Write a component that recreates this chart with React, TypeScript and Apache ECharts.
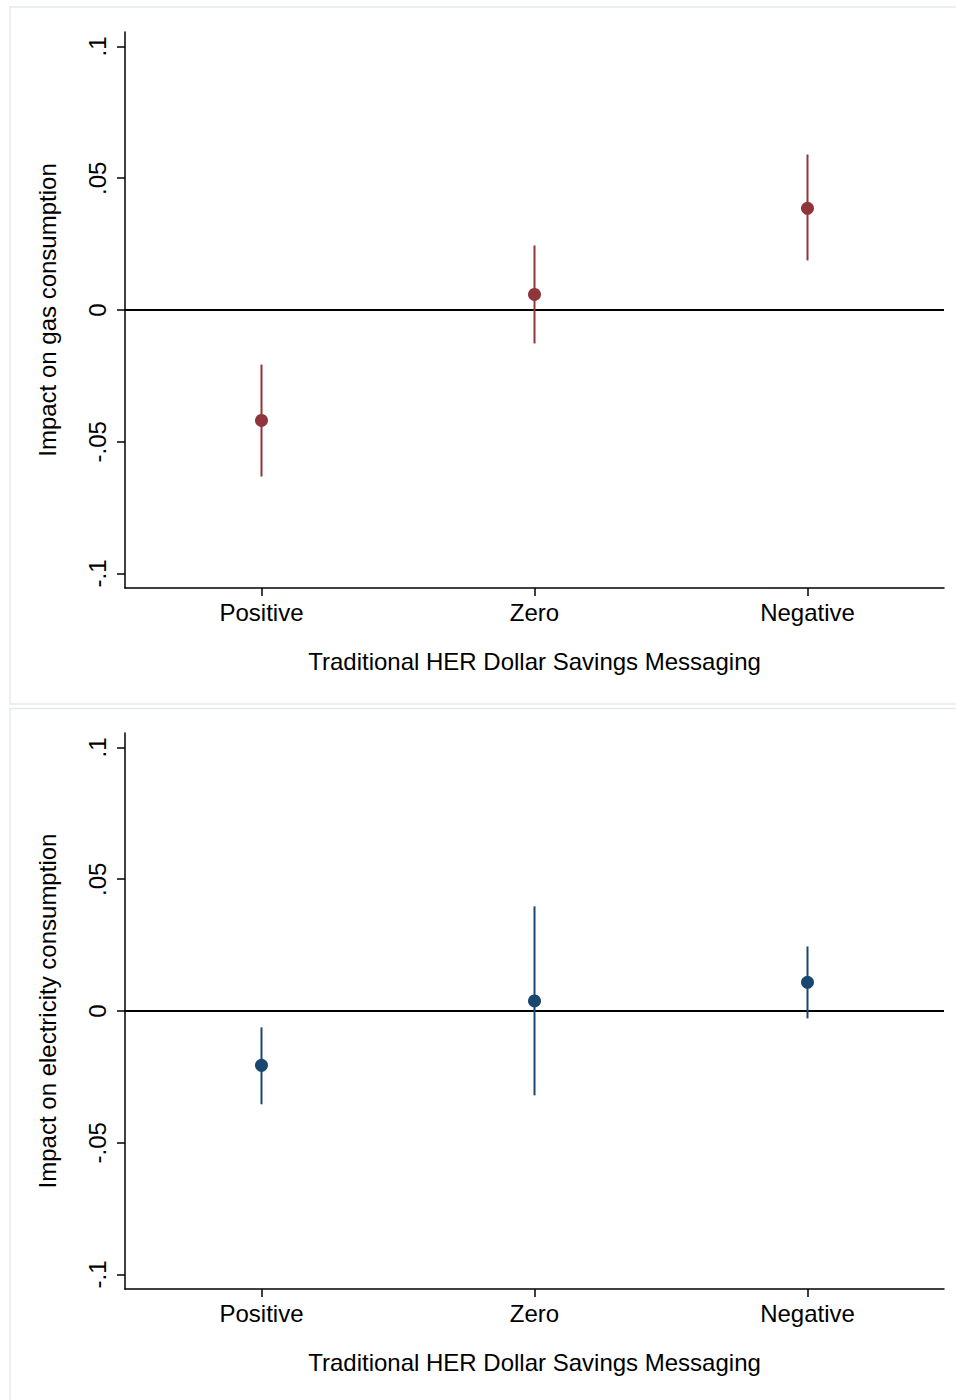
import React, { useEffect, useRef } from "react";
import * as echarts from "echarts";

const categories = ["Positive", "Zero", "Negative"];

const gasEstimate = [-0.0419, 0.0059, 0.0386];
const gasLow = [-0.0632, -0.0127, 0.0188];
const gasHigh = [-0.0207, 0.0245, 0.059];

const elecEstimate = [-0.0206, 0.0038, 0.0109];
const elecLow = [-0.0354, -0.032, -0.0028];
const elecHigh = [-0.0062, 0.0397, 0.0245];

const yTicks = [-0.1, -0.05, 0, 0.05, 0.1];

const xTitle = "Traditional HER Dollar Savings Messaging";
const gasTitle = "Impact on gas consumption";
const elecTitle = "Impact on electricity consumption";

const RED = "#90353b";
const BLUE = "#1a476f";
const FONT = "'Liberation Sans', Arial, Helvetica, sans-serif";

function fmt(v: number): string {
  if (v === 0) return "0";
  const s = String(Math.abs(v)).replace(/^0/, "");
  return (v < 0 ? "-" : "") + s;
}

export default function App() {
  const ref = useRef<HTMLDivElement>(null);

  useEffect(() => {
    if (!ref.current) return;
    const chart = echarts.init(ref.current, undefined, { renderer: "svg" });

    const panels = [
      { est: gasEstimate, low: gasLow, high: gasHigh, color: RED, title: gasTitle },
      { est: elecEstimate, low: elecLow, high: elecHigh, color: BLUE, title: elecTitle },
    ];

    const series: any[] = [];
    panels.forEach((p, i) => {
      series.push({
        type: "custom",
        xAxisIndex: i,
        yAxisIndex: i,
        silent: true,
        data: categories.map((c, j) => [j, p.low[j], p.high[j]]),
        encode: { x: 0, y: [1, 2] },
        renderItem: (params: any, api: any) => {
          const a = api.coord([api.value(0), api.value(1)]);
          const b = api.coord([api.value(0), api.value(2)]);
          return {
            type: "line",
            shape: { x1: a[0], y1: a[1], x2: b[0], y2: b[1] },
            style: { stroke: p.color, lineWidth: 2 },
          };
        },
        z: 3,
      });
      series.push({
        type: "scatter",
        xAxisIndex: i,
        yAxisIndex: i,
        data: categories.map((c, j) => [j, p.est[j]]),
        symbol: "circle",
        symbolSize: 13,
        itemStyle: { color: p.color, opacity: 1 },
        z: 4,
        markLine: {
          silent: true,
          symbol: "none",
          label: { show: false },
          lineStyle: { color: "#000", width: 2, type: "solid" },
          data: [{ yAxis: 0 }],
          z: 2,
        },
      });
    });

    const option: any = {
      animation: false,
      backgroundColor: "#fff",
      graphic: [
        {
          type: "rect",
          shape: { x: 10, y: 7, width: 960, height: 697 },
          style: { fill: "none", stroke: "#e3ecec", lineWidth: 1.5 },
          silent: true,
        },
        {
          type: "rect",
          shape: { x: 10, y: 708.5, width: 960, height: 720 },
          style: { fill: "none", stroke: "#e3ecec", lineWidth: 1.5 },
          silent: true,
        },
      ],
      grid: [
        { left: 125, top: 32, width: 819, height: 556 },
        { left: 125, top: 733, width: 819, height: 556 },
      ],
      xAxis: [0, 1].map((i) => ({
        type: "category",
        gridIndex: i,
        data: categories,
        boundaryGap: true,
        axisLine: { show: true, onZero: false, lineStyle: { color: "#000", width: 1.5 } },
        axisTick: { show: true, alignWithLabel: true, length: 8, lineStyle: { color: "#000", width: 1.5 } },
        axisLabel: { fontSize: 24, color: "#000", margin: 12, fontFamily: FONT },
        splitLine: { show: false },
        name: xTitle,
        nameLocation: "middle",
        nameGap: 61,
        nameTextStyle: { fontSize: 24, color: "#000", fontFamily: FONT },
      })),
      yAxis: panels.map((p, i) => ({
        type: "value",
        gridIndex: i,
        min: -0.1055,
        max: 0.1055,
        axisLine: { show: true, onZero: false, lineStyle: { color: "#000", width: 1.5 } },
        axisTick: { show: true, length: 8, customValues: yTicks, lineStyle: { color: "#000", width: 1.5 } },
        axisLabel: {
          customValues: yTicks,
          rotate: 90,
          fontSize: 24,
          color: "#000",
          margin: 16,
          fontFamily: FONT,
          formatter: (v: number) => fmt(v),
        },
        splitLine: { show: false },
        name: p.title,
        nameLocation: "middle",
        nameRotate: 90,
        nameGap: 66,
        nameTextStyle: { fontSize: 24, color: "#000", fontFamily: FONT },
      })),
      series,
    };

    chart.setOption(option);
    return () => chart.dispose();
  }, []);

  return (
    <div
      ref={ref}
      style={{ position: "absolute", left: 0, top: 0, width: 956, height: 1400 }}
    />
  );
}
